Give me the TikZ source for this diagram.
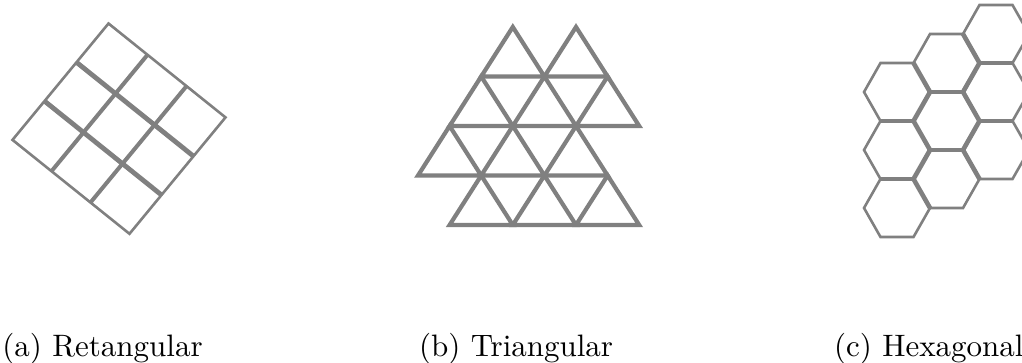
\documentclass[tikz,border=0pt]{standalone}
\usepackage{fontspec}
\definecolor{gridgray}{RGB}{128,128,128}
\begin{document}
\begin{tikzpicture}[x=0.5pt,y=-0.5pt,
  outerline/.style={draw=gridgray,line width=1.3pt,line join=miter},
  innerline/.style={draw=gridgray,line width=2.3pt},
  triline/.style={draw=gridgray,line width=2.1pt,line join=miter},
  caption/.style={anchor=base west,inner sep=0pt,font=\fontsize{10}{12}\selectfont}]
\useasboundingbox (0,0) rectangle (1022,363);
\clip (0,0) rectangle (1022,363);

% ---- (a) rectangular lattice ----
\foreach \i in {0,...,3}
  \foreach \j in {0,...,3}
    \coordinate (r\i\j) at ({108.5+39*\i-32*\j},{23.5+31.3*\i+38.8*\j});
\foreach \j in {1,2}
  \draw[innerline,line width=2.4pt] (r0\j) -- (r3\j);
\foreach \i in {1,2}
  \draw[innerline,line width=2pt] (r\i0) -- (r\i3);
\draw[outerline] (r00) -- (r30) -- (r33) -- (r03) -- cycle;

% ---- (b) triangular lattice ----
\foreach \i in {0,...,7}
  \foreach \r in {0,...,4}
    \coordinate (t\i\r) at ({418+31.6*\i},{27+49.5*\r});
\foreach \i/\r [evaluate=\i as \a using int(\i-1),
                evaluate=\i as \b using int(\i+1),
                evaluate=\r as \s using int(\r+1)]
    in {3/0,5/0,2/1,4/1,6/1,1/2,3/2,5/2,2/3,4/3,6/3}
  \draw[triline] (t\i\r) -- (t\a\s) -- (t\b\s) -- cycle;

% ---- (c) hexagonal lattice ----
\foreach \c in {0,1,2}
  \foreach \k in {0,1,2}
    \coordinate (h\c\k) at ({897+49.5*\c},{92-29*\c+58*\k});
\foreach \c in {0,1,2}
  \foreach \k in {0,1,2}
    \draw[outerline] (h\c\k) ++(33,0) -- ++(-16.5,29) -- ++(-33,0)
      -- ++(-16.5,-29) -- ++(16.5,-29) -- ++(33,0) -- cycle;
\foreach \c in {0,1,2}
  \foreach \k in {0,1}
    \draw[innerline] (h\c\k) ++(-16.5,29) -- ++(33,0);
\foreach \c in {0,1}
  \foreach \k in {0,1,2}
    \draw[innerline] (h\c\k) ++(16.5,-29) -- ++(16.5,29);
\foreach \c in {0,1}
  \foreach \k in {0,1}
    \draw[innerline] (h\c\k) ++(33,0) -- ++(-16.5,29);

% ---- captions ----
\node[caption] (capa) at (2,356) {\scalebox{1.55}{(a) Retangular}};
\node[caption] (capb) at (418.7,356) {\scalebox{1.55}{(b) Triangular}};
\node[caption] (capc) at (833.7,356) {\scalebox{1.55}{(c) Hexagonal}};
\end{tikzpicture}
\end{document}
